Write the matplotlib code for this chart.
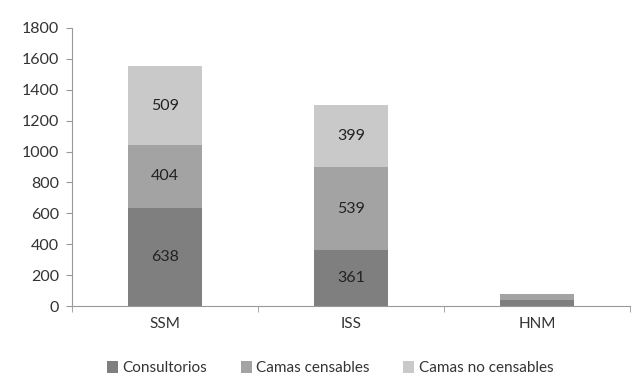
import matplotlib.pyplot as plt
import numpy as np

plt.rcParams['font.family'] = ['Lato', 'DejaVu Sans']

categories = ['SSM', 'ISS', 'HNM']
consultorios = [638, 361, 40]
camas_censables = [404, 539, 40]
camas_no_censables = [509, 399, 0]
series_names = ['Consultorios', 'Camas censables', 'Camas no censables']
colors = ['#7f7f7f', '#a3a3a3', '#c9c9c9']

fig = plt.figure(figsize=(6.35, 3.88), dpi=100)
ax = fig.add_axes([0.113, 0.211, 0.879, 0.717])

x = np.arange(len(categories))
bottom = np.zeros(len(categories))
handles = []
for vals, name, col in zip([consultorios, camas_censables, camas_no_censables], series_names, colors):
    vals = np.array(vals, dtype=float)
    b = ax.bar(x, vals, 0.4, bottom=bottom, color=col, label=name)
    handles.append(b)
    for xi, v, bt in zip(x, vals, bottom):
        if v >= 100:
            ax.text(xi, bt + v / 2, str(int(v)), ha='center', va='center', fontsize=11.5, color='#222222')
    bottom += vals

ax.set_xlim(-0.5, 2.5)
ax.set_ylim(0, 1800)
ax.set_yticks(range(0, 1801, 200))
ax.set_xticks(x)
ax.set_xticklabels(categories)
ax.set_xticks(np.arange(-0.5, 3, 1), minor=True)
ax.tick_params(axis='x', which='major', length=0, labelsize=11, colors='#333333', pad=8)
ax.tick_params(axis='x', which='minor', length=4, color='#999999', direction='out')
ax.tick_params(axis='y', length=4, color='#999999', labelsize=11.5, labelcolor='#333333', pad=5)
for s in ['top', 'right']:
    ax.spines[s].set_visible(False)
for s in ['left', 'bottom']:
    ax.spines[s].set_color('#999999')

fig.legend(handles, series_names, loc='center', bbox_to_anchor=(0.52, 0.052), ncol=3, frameon=False,
           fontsize=11, handlelength=0.7, handleheight=0.9, handletextpad=0.3, columnspacing=2.2,
           labelcolor='#333333')

fig.savefig('out.png', dpi=100)
